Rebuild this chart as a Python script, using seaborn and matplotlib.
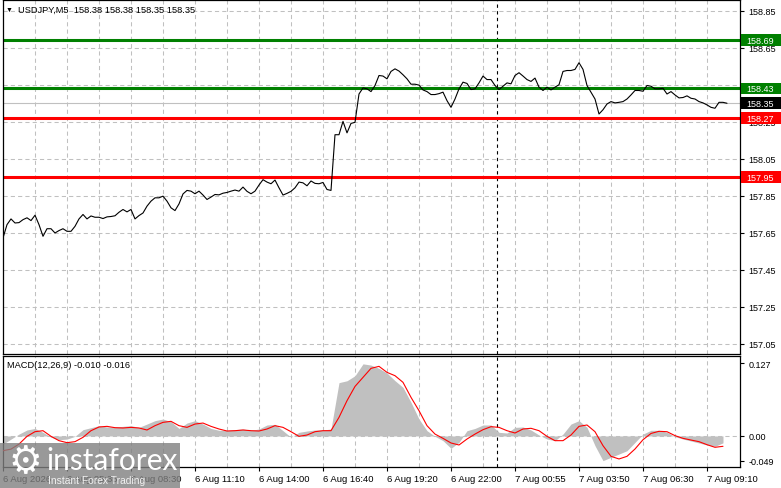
import numpy as np
import pandas as pd
import matplotlib
matplotlib.use("Agg")
import matplotlib.pyplot as plt
from matplotlib.patches import Rectangle
import seaborn as sns

# ---------------- data ----------------
symbol = "USDJPY,M5"
ohlc = [158.38, 158.38, 158.35, 158.35]

# close prices, one sample every 2 bars (10 min)
price = [
    157.622, 157.694, 157.725, 157.703, 157.705, 157.721, 157.731, 157.716, 157.745, 157.694,
    157.631, 157.672, 157.672, 157.649, 157.662, 157.672, 157.658, 157.658, 157.685, 157.725,
    157.749, 157.725, 157.741, 157.734, 157.734, 157.727, 157.736, 157.738, 157.742, 157.761,
    157.776, 157.763, 157.776, 157.725, 157.743, 157.757, 157.794, 157.821, 157.839, 157.839,
    157.848, 157.821, 157.785, 157.770, 157.806, 157.860, 157.879,
    157.875, 157.861, 157.875, 157.854, 157.830, 157.843, 157.857, 157.855, 157.864, 157.868,
    157.875, 157.881, 157.875, 157.897, 157.874, 157.861, 157.875, 157.908, 157.937, 157.924,
    157.915, 157.935, 157.893, 157.854, 157.863, 157.874, 157.893, 157.924, 157.920, 157.904,
    157.930, 157.917, 157.915, 157.922, 157.884, 157.879, 158.180, 158.180, 158.252, 158.190,
    158.241, 158.247, 158.400, 158.433,
    158.428, 158.413, 158.446, 158.500, 158.497, 158.482, 158.522, 158.536, 158.524, 158.504,
    158.482, 158.453, 158.453, 158.448, 158.422, 158.413, 158.397, 158.397, 158.402, 158.410,
    158.364, 158.328, 158.373, 158.428, 158.464, 158.457, 158.424, 158.428, 158.460, 158.497,
    158.478, 158.478, 158.446, 158.424, 158.442, 158.460, 158.455, 158.500, 158.515, 158.497,
    158.478, 158.468, 158.486, 158.437, 158.419, 158.437,
    158.422, 158.437, 158.450, 158.522, 158.527, 158.527, 158.533, 158.569, 158.533, 158.446,
    158.410, 158.373, 158.292, 158.315, 158.346, 158.359, 158.352, 158.355, 158.359, 158.373,
    158.395, 158.419, 158.419, 158.415, 158.446, 158.442, 158.428, 158.428, 158.431, 158.400,
    158.413, 158.395, 158.379, 158.381, 158.390, 158.377, 158.373, 158.359, 158.352, 158.341,
    158.328, 158.323, 158.355, 158.355, 158.350,
]

# MACD main (grey histogram) and signal (red), one sample every 4 bars
macd_main = [
    -0.013, -0.005, 0.003, 0.0095, 0.012, 0.0058, -0.002, -0.006, -0.005, -0.0006,
    0.010, 0.0132, 0.0164, 0.0143, 0.0143, 0.0153, 0.0164, 0.0137, 0.019, 0.0244,
    0.027, 0.0228, 0.012, 0.0206, 0.0244, 0.019, 0.012, 0.009, 0.009, 0.010,
    0.0111, 0.009, 0.0111, 0.0175, 0.0185, 0.0084, -0.002, 0.0058, 0.0079, 0.0095,
    0.0095, 0.0111, 0.085, 0.088, 0.096, 0.115, 0.113, 0.1078, 0.1003, 0.0881,
    0.0775, 0.0536, 0.027, 0.0084, -0.0006, -0.0075, -0.0197, -0.0102, 0.0084, 0.012,
    0.0175, 0.0175, 0.0058, 0.0047, 0.0137, 0.0143, 0.0095, 0.0015, -0.0049, -0.0075,
    0.003, 0.019, 0.0244, 0.0137, -0.0155, -0.0394, -0.034, -0.0288, -0.0235, -0.0102,
    0.003, 0.009, 0.009, 0.0058, -0.0011, -0.0049, -0.008, -0.0112, -0.0144, -0.0165,
    -0.011,
]
macd_signal = [
    -0.0235, -0.021, -0.013, -0.0006, 0.0068, 0.0084, -0.0006, -0.0075, -0.0107, -0.0091,
    -0.0022, 0.0084, 0.0143, 0.0153, 0.0132, 0.0127, 0.0137, 0.0127, 0.0095, 0.0164,
    0.0217, 0.0233, 0.0164, 0.0137, 0.019, 0.0206, 0.0153, 0.0111, 0.0079, 0.0084,
    0.0095, 0.0084, 0.0079, 0.0111, 0.0164, 0.0137, 0.0068, -0.0006, 0.0015, 0.0068,
    0.0084, 0.0084, 0.0297, 0.0562, 0.079, 0.0934, 0.1078, 0.111, 0.1014, 0.0961,
    0.0855, 0.0616, 0.0403, 0.0164, 0.003, -0.0038, -0.0112, -0.0144, -0.0049, 0.003,
    0.010, 0.0148, 0.0137, 0.0084, 0.0047, 0.0111, 0.0122, 0.0084, -0.0006, -0.0075,
    -0.0075, 0.0015, 0.0153, 0.0175, 0.0068, -0.0155, -0.0325, -0.0367, -0.0325, -0.0208,
    -0.006, 0.004, 0.0074, 0.0068, 0.0005, -0.0038, -0.0065, -0.0091, -0.0139, -0.0181,
    -0.0165,
]
macd_label = "MACD(12,26,9) -0.010 -0.016"

green_levels = [158.69, 158.43]
red_levels = [158.27, 157.95]
bid_price = 158.35

price_ticks = [158.85, 158.65, 158.45, 158.25, 158.05, 157.85, 157.65, 157.45, 157.25, 157.05]
time_labels = ["6 Aug 2026", "6 Aug 05:35", "6 Aug 08:30", "6 Aug 11:10", "6 Aug 14:00",
               "6 Aug 16:40", "6 Aug 19:20", "6 Aug 22:00", "7 Aug 00:55", "7 Aug 03:50",
               "7 Aug 06:30", "7 Aug 09:10"]
label_step_bars = 32
grid_step_bars = 16
separator_bar = 247

# ---------------- style ----------------
sns.set_theme(style="white")
plt.rcParams['font.family'] = ['Liberation Sans', 'DejaVu Sans']

W, H = 781, 489
fig = plt.figure(figsize=(W / 100, H / 100), dpi=100)
fig.patch.set_facecolor("white")

ax = fig.add_axes([3 / W, 1 - 355 / H, 737 / W, 354 / H])
ax2 = fig.add_axes([3 / W, 1 - 468 / H, 737 / W, 111 / H])

df_price = pd.DataFrame({"bar": np.arange(len(price)) * 2, "close": price})
df_macd = pd.DataFrame({"bar": np.arange(len(macd_main)) * 4,
                        "main": macd_main, "signal": macd_signal})

xmax = 368.5
grid_kw = dict(color="#c0c0c0", lw=0.75, ls=(0, (4, 3)), zorder=0.5)
grid_bars = np.arange(grid_step_bars, 360, grid_step_bars)

# ---- main price panel ----
for b in grid_bars:
    ax.axvline(b, **grid_kw)
for t in price_ticks:
    ax.axhline(t, **grid_kw)
ax.axhline(bid_price, color="#c0c0c0", lw=0.8, zorder=0.8)
ax.axvline(separator_bar, color="black", lw=0.8, ls=(0, (3, 3)), zorder=1)
for v in green_levels:
    ax.axhline(v, color="#008000", lw=2.2, zorder=2)
for v in red_levels:
    ax.axhline(v, color="#ff0000", lw=2.2, zorder=2)

sns.lineplot(data=df_price, x="bar", y="close", ax=ax, color="black", lw=0.8,
             zorder=3, legend=False)

ax.set_xlim(0, xmax)
ax.set_ylim(156.995, 158.908)
ax.set_xticks([])
ax.yaxis.tick_right()
ax.set_yticks(price_ticks)
ax.set_yticklabels([f"{t:.2f}" for t in price_ticks])
ax.tick_params(axis="y", length=3, width=0.8, pad=3, labelsize=6.5, colors="black",
               right=True, left=False)
ax.set_xlabel("")
ax.set_ylabel("")
for s in ax.spines.values():
    s.set_color("black")
    s.set_linewidth(0.9)

trans = ax.get_yaxis_transform()
hh = 5.9 / 185.1
for v, c in [(green_levels[0], "#008000"), (green_levels[1], "#008000"),
             (bid_price, "black"), (red_levels[0], "#ff0000"), (red_levels[1], "#ff0000")]:
    ax.add_patch(Rectangle((1.0015, v - hh), 41 / 737, 2 * hh, transform=trans,
                           facecolor=c, edgecolor="none", clip_on=False, zorder=5))
    ax.text(1.0 + 6 / 737, v, f"{v:.2f}", transform=trans, color="white",
            fontsize=6.5, va="center", ha="left", zorder=6, clip_on=False)

# ---- MACD panel ----
for b in grid_bars:
    ax2.axvline(b, **grid_kw)
ax2.axhline(0, **grid_kw)
ax2.axvline(separator_bar, color="black", lw=0.8, ls=(0, (3, 3)), zorder=1)
ax2.fill_between(df_macd["bar"], 0, df_macd["main"], color="#c0c0c0", lw=0, zorder=2)
sns.lineplot(data=df_macd, x="bar", y="signal", ax=ax2, color="#ff0000", lw=0.8,
             zorder=3, legend=False)
ax2.set_xlim(0, xmax)
ax2.set_ylim(-0.0495, 0.1275)
ax2.yaxis.tick_right()
ax2.set_yticks([0.1163, 0.0, -0.0399])
ax2.set_yticklabels(["0.127", "0.00", "-0.049"])
ax2.tick_params(axis="y", length=3, width=0.8, pad=3, labelsize=6.5, colors="black",
                right=True, left=False)
ax2.set_xticks(np.arange(len(time_labels)) * label_step_bars)
ax2.set_xticklabels(time_labels, ha="left")
ax2.tick_params(axis="x", length=3, width=0.8, pad=2, labelsize=6.8, colors="black",
                bottom=True)
ax2.set_xlabel("")
ax2.set_ylabel("")
for s in ax2.spines.values():
    s.set_color("black")
    s.set_linewidth(0.9)

# ---- header texts ----
fig.text(6 / W, 1 - 10 / H, "▼", fontsize=5, va="center", ha="left", color="black")
fig.text(18 / W, 1 - 10 / H, f"{symbol}  " + " ".join(f"{v:.2f}" for v in ohlc),
         fontsize=6.7, va="center", ha="left", color="black")
fig.text(7 / W, 1 - 366 / H, macd_label, fontsize=6.7, va="center", ha="left",
         color="black")

# ---- watermark ----
fig.patches.append(Rectangle((0, 0), 180 / W, 45 / H, transform=fig.transFigure,
                             facecolor="#808080", alpha=0.8, edgecolor="none",
                             zorder=10))
fig.text(25 / W, 1 - 463 / H, "⚙", fontsize=27, color="white", ha="center",
         va="center", family=["DejaVu Sans"], zorder=11)
fig.text(46 / W, 1 - 461 / H, "instaforex", fontsize=21.5, color="white", ha="left",
         va="center", family=["Lato", "DejaVu Sans"], zorder=11)
fig.text(48 / W, 1 - 481 / H, "Instant Forex Trading", fontsize=7.4, color="#f0f0f0",
         ha="left", va="center", zorder=11)

fig.savefig("out.png", dpi=100, facecolor="white")
